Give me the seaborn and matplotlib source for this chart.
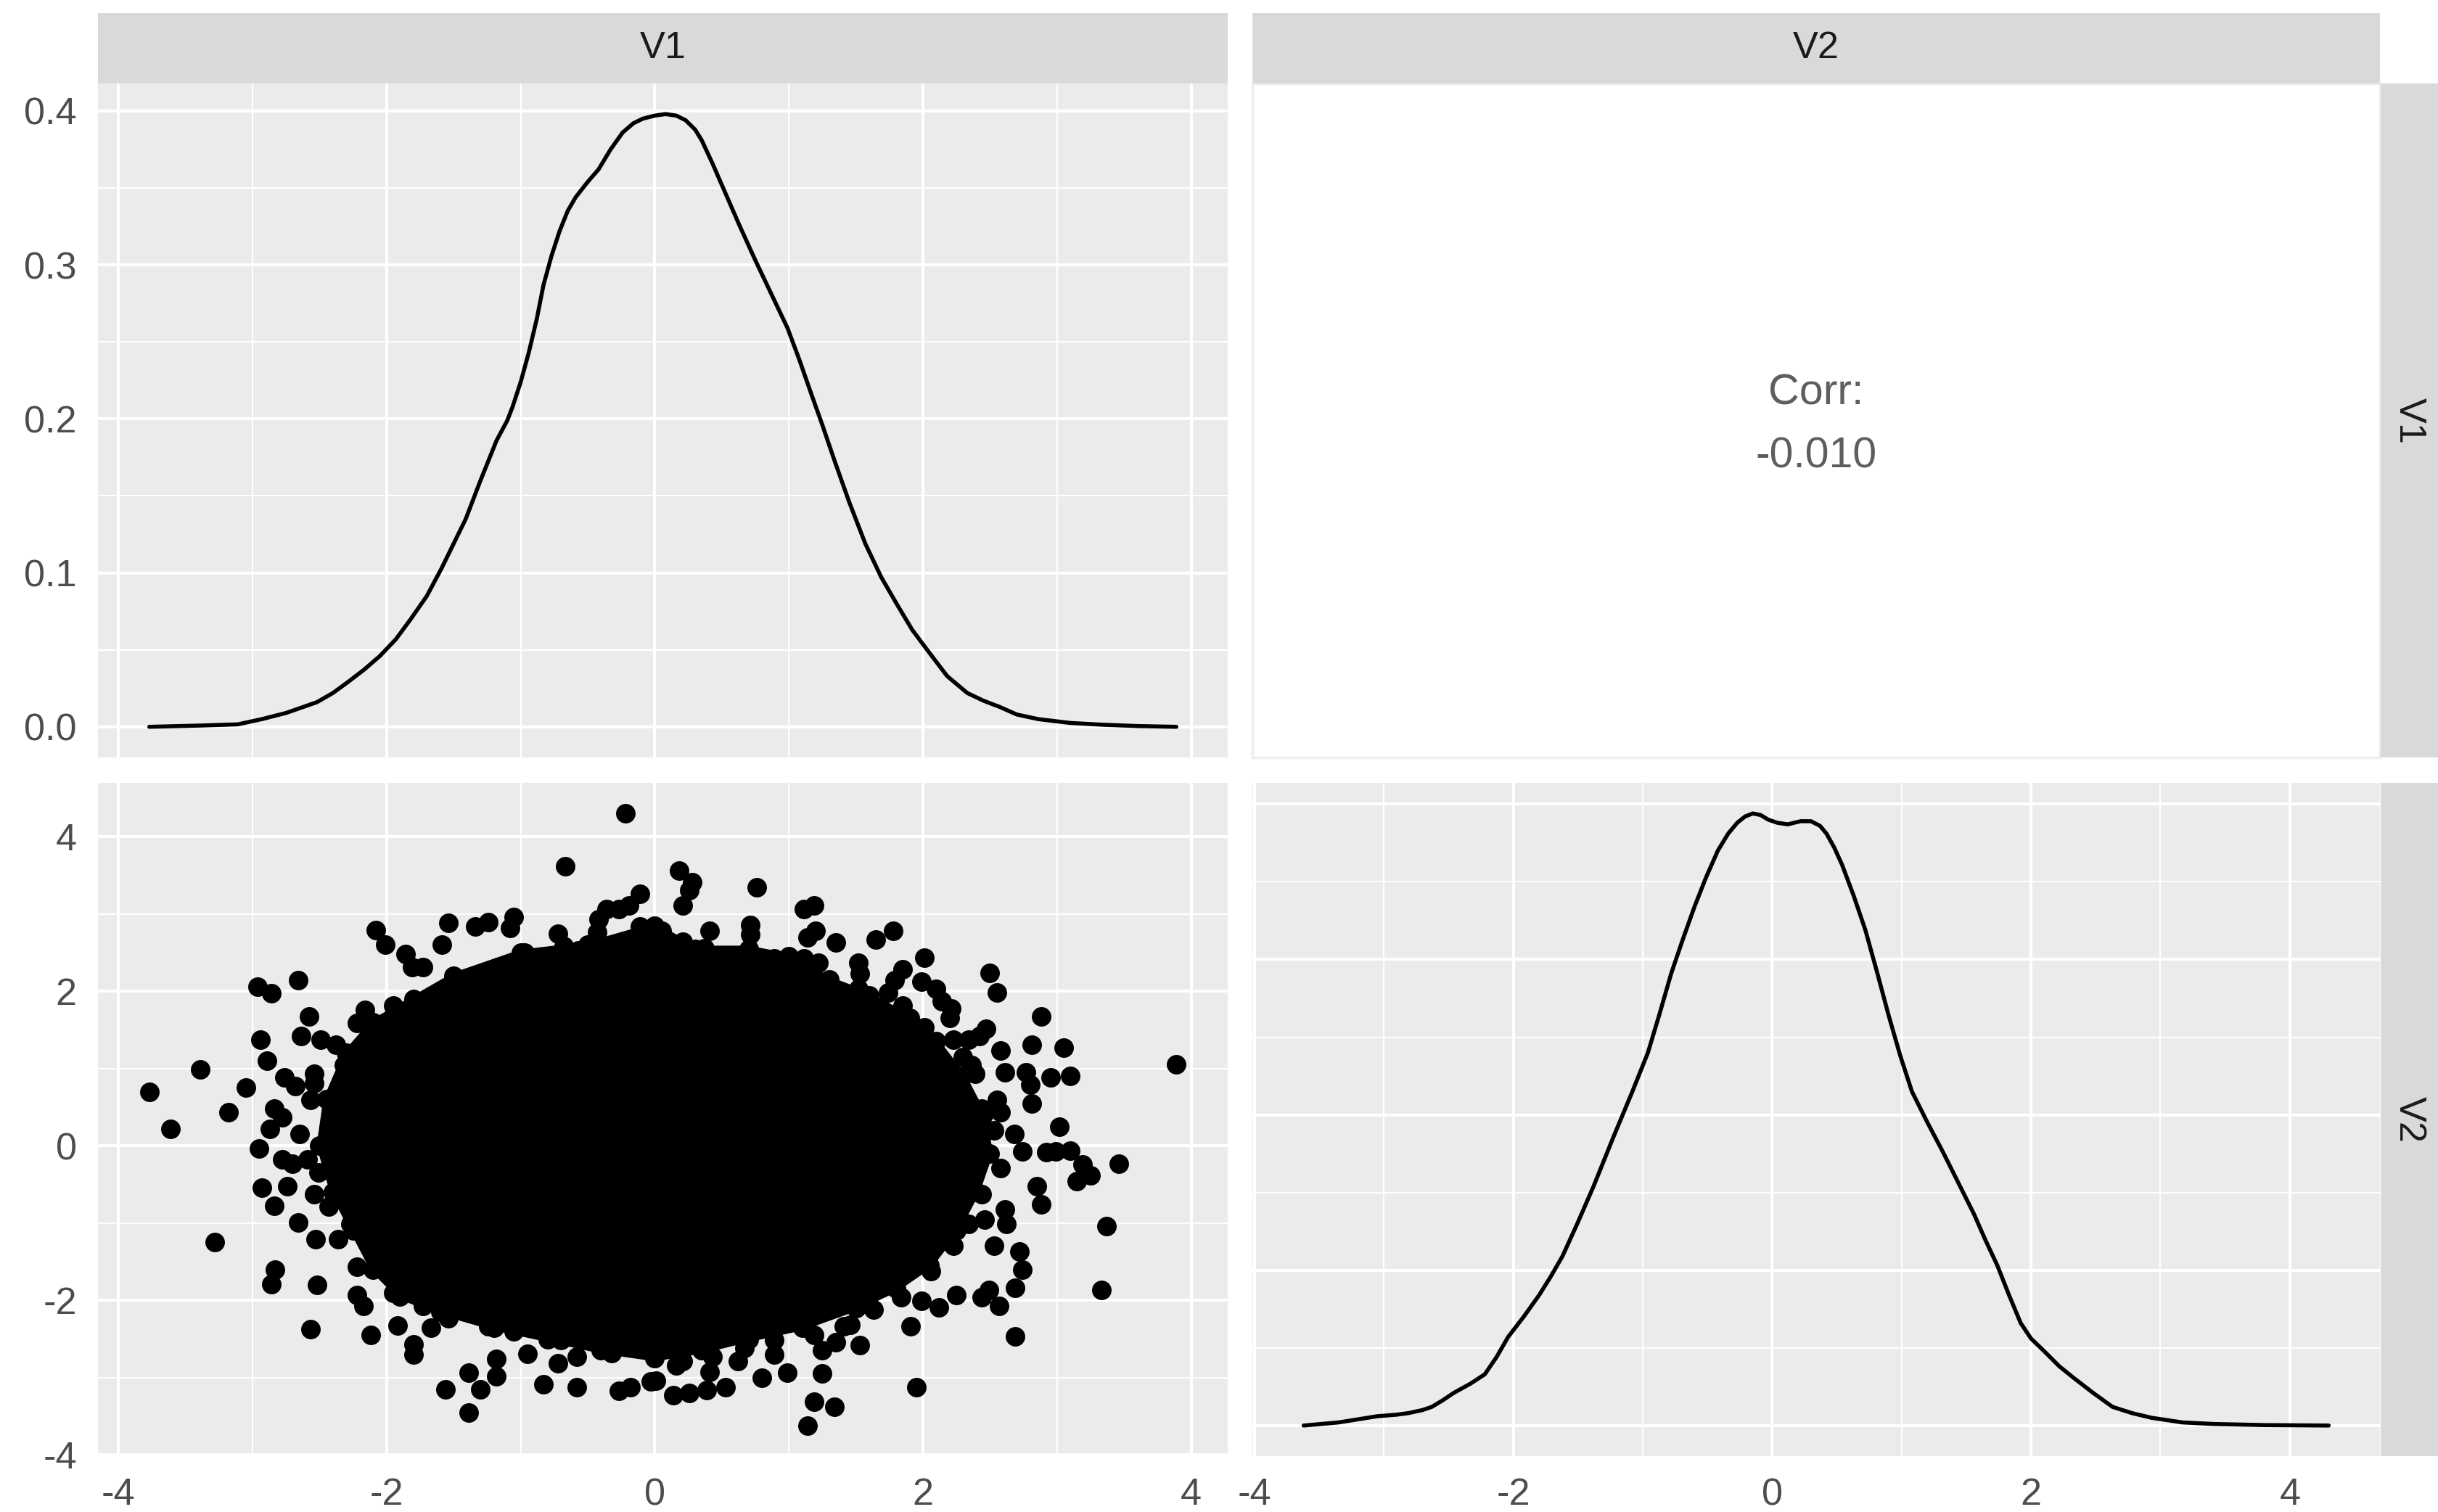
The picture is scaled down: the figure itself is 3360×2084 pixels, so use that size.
import numpy as np
import pandas as pd
import matplotlib
matplotlib.use("Agg")
import matplotlib.pyplot as plt
from matplotlib.ticker import FixedLocator
import seaborn as sns

# ---------------- data ----------------
var_names = ["V1", "V2"]
corr_label = "Corr:"
corr_value = "-0.010"

axis_ticks = [-4, -2, 0, 2, 4]
axis_minor = [-3, -1, 1, 3]
density_ticks = [0.0, 0.1, 0.2, 0.3, 0.4]
density_minor = [0.05, 0.15, 0.25, 0.35]
density_tick_labels = ["0.0", "0.1", "0.2", "0.3", "0.4"]

# density of V1 (top-left diagonal panel)
v1_density_x = [-3.77, -3.40, -3.11, -2.93, -2.75, -2.52, -2.40, -2.29, -2.17, -2.05,
                -1.93, -1.82, -1.70, -1.59, -1.50, -1.41, -1.30, -1.18, -1.10, -1.06,
                -1.00, -0.94, -0.88, -0.83, -0.77, -0.71, -0.65, -0.59, -0.50, -0.42,
                -0.33, -0.24, -0.16, -0.09, 0.00, 0.08, 0.16, 0.23, 0.30, 0.35,
                0.43, 0.52, 0.63, 0.75, 0.87, 0.99, 1.08, 1.16, 1.25, 1.34,
                1.45, 1.57, 1.69, 1.81, 1.92, 2.04, 2.18, 2.33, 2.45, 2.57,
                2.70, 2.86, 3.10, 3.33, 3.60, 3.89]
v1_density_y = [0.0, 0.0008, 0.0016, 0.005, 0.009, 0.016, 0.022, 0.029, 0.037, 0.046,
                0.057, 0.070, 0.085, 0.103, 0.119, 0.135, 0.160, 0.186, 0.199, 0.208,
                0.224, 0.243, 0.265, 0.287, 0.306, 0.322, 0.335, 0.344, 0.354, 0.362,
                0.375, 0.386, 0.392, 0.395, 0.397, 0.398, 0.397, 0.394, 0.388, 0.381,
                0.366, 0.348, 0.326, 0.303, 0.281, 0.259, 0.238, 0.218, 0.196, 0.173,
                0.146, 0.119, 0.097, 0.079, 0.063, 0.049, 0.033, 0.022, 0.017, 0.013,
                0.008, 0.005, 0.0025, 0.0014, 0.0005, 0.0]

# density of V2 (bottom-right diagonal panel)
v2_density_x = [-3.62, -3.35, -3.05, -2.90, -2.81, -2.70, -2.63, -2.55, -2.46, -2.33,
                -2.22, -2.13, -2.04, -1.92, -1.80, -1.71, -1.62, -1.50, -1.38, -1.23,
                -1.08, -0.96, -0.87, -0.78, -0.69, -0.60, -0.51, -0.42, -0.34, -0.27,
                -0.21, -0.15, -0.09, -0.03, 0.04, 0.12, 0.22, 0.30, 0.37, 0.42,
                0.48, 0.54, 0.63, 0.72, 0.81, 0.90, 0.99, 1.08, 1.20, 1.32,
                1.44, 1.56, 1.65, 1.74, 1.83, 1.92, 2.00, 2.10, 2.22, 2.34,
                2.48, 2.63, 2.78, 2.93, 3.17, 3.41, 3.80, 4.30]
v2_density_y = [0.0, 0.002, 0.006, 0.007, 0.008, 0.010, 0.012, 0.016, 0.021, 0.027,
                0.033, 0.044, 0.057, 0.070, 0.084, 0.096, 0.109, 0.131, 0.154, 0.185,
                0.215, 0.240, 0.265, 0.291, 0.313, 0.334, 0.353, 0.370, 0.381, 0.388,
                0.392, 0.394, 0.393, 0.390, 0.388, 0.387, 0.389, 0.389, 0.386, 0.381,
                0.372, 0.361, 0.341, 0.319, 0.292, 0.264, 0.238, 0.215, 0.195, 0.176,
                0.156, 0.136, 0.119, 0.103, 0.084, 0.066, 0.056, 0.048, 0.038, 0.030,
                0.021, 0.012, 0.008, 0.005, 0.002, 0.001, 0.0003, 0.0]

# outline of the solid black core of the V1/V2 scatter
core_v1 = [0.00, 0.30, 0.70, 1.00, 1.30, 1.60, 1.90, 2.10, 2.30, 2.45, 2.50, 2.40,
           2.25, 2.05, 1.80, 1.50, 1.10, 0.70, 0.35, 0.00, -0.40, -0.80, -1.20,
           -1.60, -1.90, -2.10, -2.25, -2.40, -2.50, -2.45, -2.30, -2.10, -1.80,
           -1.50, -1.00, -0.50]
core_v2 = [2.85, 2.55, 2.55, 2.45, 2.15, 1.95, 1.65, 1.35, 0.90, 0.40, -0.10, -0.60,
           -1.10, -1.55, -1.85, -2.10, -2.35, -2.50, -2.65, -2.75, -2.65, -2.50, -2.35,
           -2.15, -1.95, -1.60, -1.10, -0.60, 0.00, 0.60, 1.20, 1.60, 1.90,
           2.20, 2.50, 2.60]

# points forming the ragged rim of the core
rim_v1 = [-1.35, -1.16, -0.97, -0.86, -0.57, -0.78, -0.43, -2.22, -2.16, -1.95,
          -2.38, -2.32, -2.54, -2.57, -2.65, -2.59, -2.54, -2.43, -2.27, -2.22,
          -1.95, -1.73, -1.54, -1.35, -1.24, -1.05, -0.81, -0.70, -0.32, -0.14,
          0.05, 0.21, 0.37, 0.54, 0.89, 1.11, 1.22, 1.52, 1.74, 1.85,
          2.01, 2.23, 2.30, 2.39, 2.44, 2.53, 2.58, 2.44, 2.34, 2.23,
          2.06, 1.84, 1.63, 1.41, 1.19, 0.89, 0.67, 0.43, 0.16]
rim_v2 = [2.20, 1.98, 2.50, 2.42, 2.53, 2.20, 2.50, 1.59, 1.76, 1.81,
          1.31, 1.04, 0.81, 0.59, 0.15, -0.18, -0.63, -0.79, -1.01, -1.57,
          -1.90, -2.07, -2.23, -2.18, -2.34, -2.40, -2.34, -2.51, -2.68, -2.62,
          2.78, 2.64, 2.56, 2.42, 2.42, 2.42, 2.37, 2.03, 1.98, 1.81,
          1.53, 1.37, 1.15, 0.93, 0.48, 0.20, -0.29, -0.63, -1.01, -1.29,
          -1.62, -1.96, -2.12, -2.34, -2.45, -2.51, -2.62, -2.73, -2.84]

# individually visible points outside the core
points_v1 = [-0.22, -0.67, -0.11, -0.19, -0.27, -0.36, -0.42, -0.43, -0.11, -0.72,
             -0.68, -1.05, -1.08, -1.24, -1.34, -1.54, -1.59, -2.08, -2.01, -1.86,
             -1.81, -1.73, -2.66, -2.96, -2.86, -2.58, -2.94, -2.64, -2.49, -2.89,
             -3.39, -3.77, -3.05, -2.76, -2.68, -2.54, -3.61, -3.18, -2.84, -2.78,
             -2.87, -2.95, -2.78, -2.70, -2.51, -2.93, -2.74, -2.84, -2.66, -2.53,
             -2.36, -3.28, -2.83, -2.86, -2.52, -2.22, -2.17, -2.57, -2.12, -1.92,
             -1.80, -1.80, -1.67, -1.56, -1.39, -1.30, -1.18, -1.18, -1.39, -0.95,
             -0.83, -0.72, -0.58, -0.58, -0.27, -0.18, -0.03,
             0.18, 0.28, 0.26, 0.21, 0.76, 1.11, 1.19, 0.41, 0.71, 0.71,
             1.14, 1.20, 1.35, 1.65, 1.78, 1.52, 1.53, 2.01, 1.85, 1.79,
             2.50, 2.55, 1.99, 2.10, 2.14, 2.21, 2.20, 2.88, 2.42, 2.47,
             2.58, 2.81, 3.05, 3.89, 2.61, 2.77, 2.80, 2.95, 3.10, 2.81,
             2.55, 2.58, 3.02, 2.68, 2.74, 2.92, 2.99, 3.10, 3.46, 3.19,
             3.25, 3.15, 2.85, 2.88, 3.37, 2.61, 2.46, 2.62, 2.53, 2.72,
             2.74, 3.33, 2.69, 2.44, 2.57, 2.49, 2.25, 2.12, 1.99, 2.69,
             1.91, 1.53, 1.46, 1.95, 1.25, 1.25, 0.99, 0.80, 1.19, 1.34,
             1.14, 0.53, 0.41, 0.14, 0.26, 0.39, 0.01, 0.21, 0.62, 0.89,
             1.35, 2.36, 2.34]
points_v2 = [4.30, 3.62, 3.26, 3.11, 3.06, 3.06, 2.93, 2.76, 2.84, 2.74,
             2.58, 2.96, 2.82, 2.89, 2.84, 2.88, 2.60, 2.79, 2.60, 2.48,
             2.31, 2.31, 2.14, 2.06, 1.97, 1.67, 1.37, 1.42, 1.37, 1.10,
             0.99, 0.70, 0.75, 0.88, 0.77, 0.93, 0.22, 0.43, 0.48, 0.37,
             0.22, -0.04, -0.18, -0.23, -0.35, -0.54, -0.52, -0.78, -0.99, -1.21,
             -1.21, -1.25, -1.60, -1.79, -1.80, -1.93, -2.07, -2.37, -2.45, -2.33,
             -2.57, -2.70, -2.35, -3.15, -2.94, -3.15, -2.98, -2.76, -3.45, -2.69,
             -3.09, -2.81, -3.12, -2.73, -3.17, -3.12, -3.05,
             3.56, 3.41, 3.31, 3.11, 3.34, 3.06, 3.11, 2.78, 2.86, 2.73,
             2.70, 2.78, 2.63, 2.67, 2.78, 2.37, 2.23, 2.43, 2.28, 2.14,
             2.24, 1.98, 2.12, 2.03, 1.87, 1.78, 1.65, 1.67, 1.42, 1.51,
             1.23, 1.31, 1.27, 1.05, 0.95, 0.95, 0.79, 0.88, 0.90, 0.55,
             0.59, 0.43, 0.25, 0.15, -0.07, -0.08, -0.07, -0.06, -0.23, -0.24,
             -0.38, -0.46, -0.52, -0.76, -1.04, -0.82, -0.96, -1.01, -1.29, -1.37,
             -1.60, -1.87, -1.84, -1.96, -2.07, -1.87, -1.93, -2.09, -2.01, -2.47,
             -2.34, -2.58, -2.32, -3.12, -2.95, -2.65, -2.94, -3.00, -3.31, -3.38,
             -3.62, -3.12, -2.93, -3.23, -3.20, -3.16, -3.04, -2.79, -2.79, -2.70,
             -2.54, 1.04, 1.37]

# ---------------- styling ----------------
sns.set_style("white")
plt.rcParams["font.family"] = ["Liberation Sans", "DejaVu Sans"]
plt.rcParams["axes.unicode_minus"] = False

PANEL_BG = "#EBEBEB"
STRIP_BG = "#D9D9D9"
TICK_TXT = "#4D4D4D"
STRIP_TXT = "#1A1A1A"
FS = 18.8
PT_S = 94

W, H = 3360, 2084
fig = plt.figure(figsize=(W / 200, H / 200), dpi=200)


def rect(x0, y0, x1, y1):
    return [x0 / W, 1 - y1 / H, (x1 - x0) / W, (y1 - y0) / H]


col_px = [(135, 1692), (1726, 3280)]
row_px = [(115, 1044), (1079, 2007)]


def expand(lo, hi, f=0.05):
    d = hi - lo
    return lo - f * d, hi + f * d


v1_lim = expand(min(points_v1 + v1_density_x), max(points_v1 + v1_density_x))
v2_lim = expand(min(points_v2 + v2_density_x), max(points_v2 + v2_density_x))
d1_lim = expand(0.0, max(v1_density_y))
d2_lim = expand(0.0, max(v2_density_y))


def style_panel(ax, xmajor, xminor, ymajor, yminor):
    ax.set_facecolor(PANEL_BG)
    for s in ax.spines.values():
        s.set_visible(False)
    ax.xaxis.set_major_locator(FixedLocator(xmajor))
    ax.xaxis.set_minor_locator(FixedLocator(xminor))
    ax.yaxis.set_major_locator(FixedLocator(ymajor))
    ax.yaxis.set_minor_locator(FixedLocator(yminor))
    ax.grid(which="major", color="white", linewidth=1.45)
    ax.grid(which="minor", color="white", linewidth=0.72)
    ax.set_axisbelow(True)
    ax.tick_params(which="minor", length=0)
    ax.tick_params(which="major", length=5.8, width=1.1, color="#333333",
                   labelcolor=TICK_TXT, labelsize=FS, pad=4.7)
    ax.set_xlabel("")
    ax.set_ylabel("")


# top-left: density of V1
ax11 = fig.add_axes(rect(col_px[0][0], row_px[0][0], col_px[0][1], row_px[0][1]))
sns.lineplot(x=v1_density_x, y=v1_density_y, ax=ax11, color="black", linewidth=2.0)
ax11.set_xlim(*v1_lim)
ax11.set_ylim(*d1_lim)
style_panel(ax11, axis_ticks, axis_minor, density_ticks, density_minor)
ax11.set_yticklabels(density_tick_labels)
ax11.tick_params(axis="x", which="both", length=0, labelbottom=False)

# top-right: correlation text
ax12 = fig.add_axes(rect(col_px[1][0], row_px[0][0], col_px[1][1], row_px[0][1]))
ax12.set_facecolor("white")
ax12.set_xticks([])
ax12.set_yticks([])
for s in ax12.spines.values():
    s.set_color("#EDEDED")
    s.set_linewidth(1.2)
ax12.text(0.5, 0.540, corr_label, transform=ax12.transAxes, ha="center", va="center",
          fontsize=21.3, color="#5E5E5E")
ax12.text(0.5, 0.447, corr_value, transform=ax12.transAxes, ha="center", va="center",
          fontsize=21.3, color="#5E5E5E")

# bottom-left: scatter V1 vs V2
ax21 = fig.add_axes(rect(col_px[0][0], row_px[1][0], col_px[0][1], row_px[1][1]))
ax21.fill(core_v1, core_v2, facecolor="black", edgecolor="black", linewidth=3,
          joinstyle="round", zorder=2)
sns.scatterplot(x=core_v1, y=core_v2, ax=ax21, color="black", s=PT_S, linewidth=0, zorder=3)
sns.scatterplot(x=rim_v1, y=rim_v2, ax=ax21, color="black", s=PT_S, linewidth=0, zorder=3)
sns.scatterplot(x=points_v1, y=points_v2, ax=ax21, color="black", s=PT_S, linewidth=0, zorder=3)
ax21.set_xlim(*v1_lim)
ax21.set_ylim(*v2_lim)
style_panel(ax21, axis_ticks, axis_minor, axis_ticks, axis_minor)
ax21.set_xticklabels([str(t) for t in axis_ticks])
ax21.set_yticklabels([str(t) for t in axis_ticks])

# bottom-right: density of V2
ax22 = fig.add_axes(rect(col_px[1][0], row_px[1][0], col_px[1][1], row_px[1][1]))
sns.lineplot(x=v2_density_x, y=v2_density_y, ax=ax22, color="black", linewidth=2.0)
ax22.set_xlim(*v2_lim)
ax22.set_ylim(*d2_lim)
style_panel(ax22, axis_ticks, axis_minor, density_ticks, density_minor)
ax22.set_xticklabels([str(t) for t in axis_ticks])
ax22.tick_params(axis="y", which="both", length=0, labelleft=False)

# strips
for i, name in enumerate(var_names):
    sx = fig.add_axes(rect(col_px[i][0], 18, col_px[i][1], 115))
    sx.set_facecolor(STRIP_BG)
    sx.set_xticks([]); sx.set_yticks([])
    for s in sx.spines.values():
        s.set_visible(False)
    sx.text(0.5, 0.5, name, transform=sx.transAxes, ha="center", va="center",
            fontsize=FS, color=STRIP_TXT)

    sy = fig.add_axes(rect(3281, row_px[i][0], 3360, row_px[i][1]))
    sy.set_facecolor(STRIP_BG)
    sy.set_xticks([]); sy.set_yticks([])
    for s in sy.spines.values():
        s.set_visible(False)
    sy.text(0.5, 0.5, name, transform=sy.transAxes, ha="center", va="center",
            fontsize=FS, color=STRIP_TXT, rotation=270)

fig.savefig("out.png", dpi=200, facecolor="white")
